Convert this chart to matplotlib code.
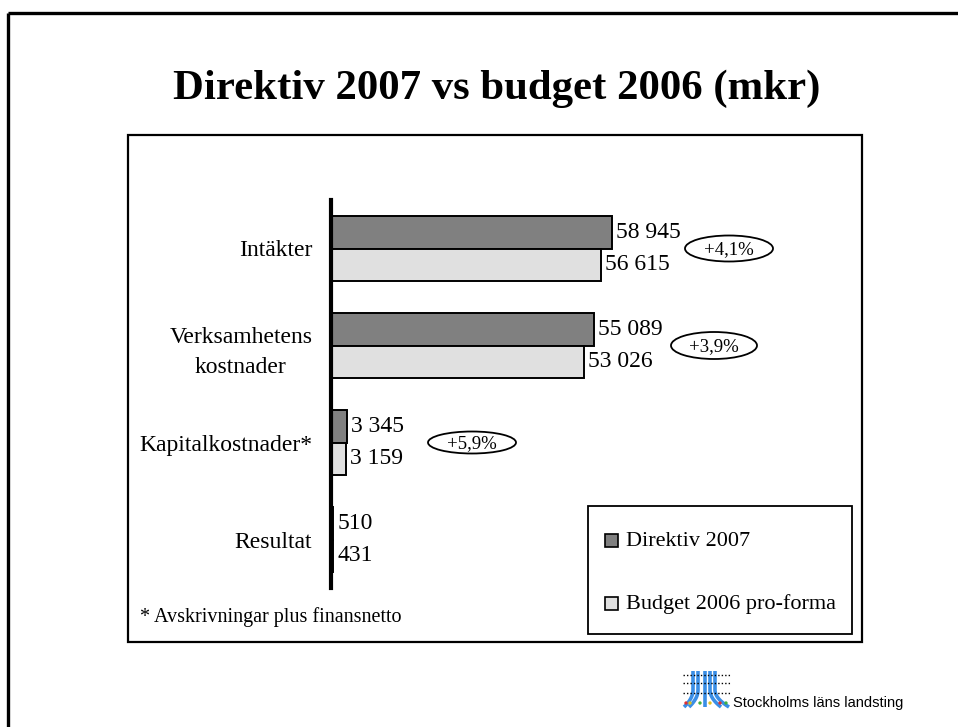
import matplotlib
matplotlib.use("Agg")
import matplotlib.pyplot as plt
from matplotlib.patches import Rectangle, Ellipse
import numpy as np

# ---- data ----
categories = ["Intäkter", "Verksamhetens\nkostnader", "Kapitalkostnader*", "Resultat"]
series_names = ["Direktiv 2007", "Budget 2006 pro-forma"]
direktiv_2007 = [58945, 55089, 3345, 510]
budget_2006 = [56615, 53026, 3159, 431]
title = "Direktiv 2007 vs budget 2006 (mkr)"
footnote = "* Avskrivningar plus finansnetto"
org_name = "Stockholms läns landsting"

W, H = 958, 727
DPI = 100
SERIF = "Liberation Serif"
dark_col = "#808080"
light_col = "#e0e0e0"

fig = plt.figure(figsize=(W / DPI, H / DPI), dpi=DPI)
fig.patch.set_facecolor("white")


def px_axes(left, top, right, bottom, **kw):
    return fig.add_axes([left / W, 1 - bottom / H, (right - left) / W, (bottom - top) / H], **kw)


# overlay axes in pixel coords for slide decorations
ov = px_axes(0, 0, W, H)
ov.set_xlim(0, W)
ov.set_ylim(H, 0)
ov.axis("off")
ov.set_zorder(0)

# outer slide frame (left and top lines only visible)
ov.plot([8.5, 8.5], [12.5, H], color="black", lw=2.4, solid_capstyle="butt")
ov.plot([8.5, W], [12.5, 12.5], color="black", lw=2.4, solid_capstyle="butt")

# inner chart box
ov.add_patch(Rectangle((128.5, 134.5), 734, 507, fill=False, ec="black", lw=1.6))

# title
ov.text(497, 89, title, fontsize=30.8, fontweight="bold", family=SERIF,
        ha="center", va="center")

# footnote
ov.text(140, 617, footnote, fontsize=14.5, family=SERIF, ha="left", va="center")

# ---- bar axes ----
ax = px_axes(331, 200, 862, 588)
ax.set_zorder(2)
ax.patch.set_alpha(0)
n = len(categories)
y = np.arange(n)
h = 0.335
bars1 = ax.barh(y - h / 2, direktiv_2007, height=h, color=dark_col, edgecolor="black", lw=1.4)
bars2 = ax.barh(y + h / 2, budget_2006, height=h, color=light_col, edgecolor="black", lw=1.4)
ax.set_ylim(n - 0.5, -0.5)
ax.set_xlim(0, 111400)
for s in ["top", "right", "bottom"]:
    ax.spines[s].set_visible(False)
ax.spines["left"].set_linewidth(3)
ax.spines["left"].set_color("black")
ax.set_xticks([])
ax.set_yticks(y)
ax.set_yticklabels(categories, fontsize=17, family=SERIF, multialignment="center",
                   linespacing=1.55)
ax.tick_params(axis="y", length=0, pad=13.5)


def fmt(v):
    return f"{v:,}".replace(",", " ")


for vals, yy in [(direktiv_2007, y - h / 2), (budget_2006, y + h / 2)]:
    for v, yi in zip(vals, yy):
        ax.annotate(fmt(v), (v, yi), xytext=(3, 0), textcoords="offset points",
                    fontsize=17, family=SERIF, ha="left", va="center")

# percentage change ellipses
ell_x = [729, 714, 472]
ell_w = [88, 86, 88]
ell_h = [26, 27, 22]
for i in range(3):
    pct = (direktiv_2007[i] / budget_2006[i] - 1) * 100
    txt = f"+{pct:.1f}%".replace(".", ",")
    yc = 200 + (i + 0.5) * 97
    ov.add_patch(Ellipse((ell_x[i], yc), ell_w[i], ell_h[i], fill=False, ec="black", lw=1.3, zorder=3))
    ov.text(ell_x[i], yc + 1, txt, fontsize=13.5, family=SERIF, ha="center", va="center", zorder=4)

# legend (manual)
ov.add_patch(Rectangle((588.5, 505.5), 264, 128, fill=False, ec="black", lw=1.3))
for name, col, yc in [(series_names[0], dark_col, 540), (series_names[1], light_col, 603)]:
    ov.add_patch(Rectangle((605, yc - 6), 13, 13, fc=col, ec="black", lw=1.2))
    ov.text(626, yc + 1, name, fontsize=16, family=SERIF, ha="left", va="center")

# logo approximation
for xb, xe in [(693, 684), (698, 689), (705, 705), (710, 721), (715, 729)]:
    ys = np.linspace(671, 707, 30)
    t = np.clip((ys - 690) / 17, 0, 1) ** 2
    ov.plot(xb + (xe - xb) * t, ys, color="#3a8ee6", lw=2.6, solid_capstyle="butt")
for yr in [675, 683, 693]:
    ov.plot([683, 730], [yr, yr], color="black", lw=1.0, ls=(0, (1, 1.5)))
ov.scatter([686, 690, 700, 710, 720, 726], [703] * 6,
           c=["#e03030", "#e0c020", "#40b040", "#e0c020", "#e03030", "#40b040"], s=2, zorder=5)
ov.text(733, 703, org_name, fontsize=10.5, family="Liberation Sans", ha="left", va="center")

fig.savefig("out.png", dpi=DPI)
